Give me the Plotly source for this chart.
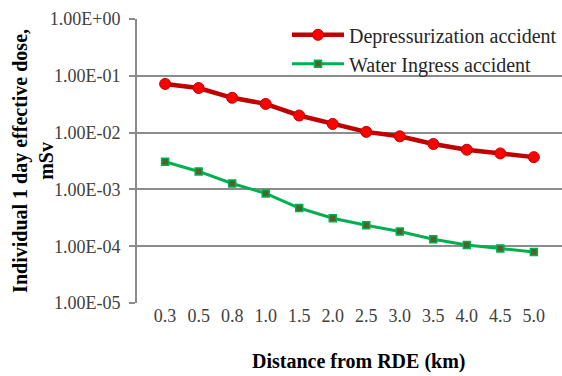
import plotly.graph_objects as go

distances = ["0.3", "0.5", "0.8", "1.0", "1.5", "2.0", "2.5", "3.0", "3.5", "4.0", "4.5", "5.0"]
depressurization = [0.072, 0.061, 0.041, 0.032, 0.020, 0.0142, 0.0103, 0.0086, 0.0063, 0.0050, 0.0043, 0.0037]
water_ingress = [0.00306, 0.00207, 0.00127, 0.00085, 0.00047, 0.00031, 0.000234, 0.000181, 0.000133, 0.000105, 0.0000912, 0.0000794]
ytick_vals = [1e-5, 1e-4, 1e-3, 1e-2, 1e-1, 1e0]
ytick_text = ["1.00E-05", "1.00E-04", "1.00E-03", "1.00E-02", "1.00E-01", "1.00E+00"]

FONT = "'Liberation Serif', 'Times New Roman', serif"
GRID = "#8c8c8c"

fig = go.Figure()
fig.add_trace(go.Scatter(
    x=distances, y=depressurization, name="Depressurization accident",
    mode="lines+markers",
    line=dict(color="#c00000", width=4.5),
    marker=dict(symbol="circle", size=11, color="#ff0000", line=dict(color="#c00000", width=1)),
))
fig.add_trace(go.Scatter(
    x=distances, y=water_ingress, name="Water Ingress accident",
    mode="lines+markers",
    line=dict(color="#00b050", width=3),
    marker=dict(symbol="square", size=7, color="#4f6228", line=dict(color="#00b050", width=1.5)),
))

fig.update_layout(
    width=562, height=376,
    margin=dict(l=137, r=0, t=19, b=73),
    paper_bgcolor="white", plot_bgcolor="white",
    font=dict(family=FONT, size=18, color="#262626"),
    showlegend=True,
    legend=dict(
        x=1, y=1.013, xanchor="right", yanchor="top",
        bgcolor="rgba(0,0,0,0)", borderwidth=0,
        font=dict(family=FONT, size=20, color="#262626"),
        itemwidth=52, tracegroupgap=0,
    ),
    xaxis=dict(
        type="category", showgrid=False, showline=False, ticks="",
        tickfont=dict(family=FONT, size=18, color="#404040"),
        zeroline=False,
    ),
    yaxis=dict(
        type="log", range=[-5, 0],
        tickvals=ytick_vals, ticktext=ytick_text,
        showgrid=True, gridcolor=GRID, gridwidth=2,
        showline=True, linecolor=GRID, linewidth=2,
        ticks="outside", ticklen=6, tickcolor=GRID, tickwidth=2,
        ticklabelstandoff=5,
        tickfont=dict(family=FONT, size=18, color="#404040"),
        zeroline=False,
    ),
    annotations=[
        dict(text="<b>Individual 1 day effective dose,<br>mSv</b>",
             xref="paper", yref="paper", x=-0.245, y=0.5,
             xanchor="center", yanchor="middle", textangle=-90, showarrow=False,
             font=dict(family=FONT, size=20, color="#000000")),
        dict(text="<b>Distance from RDE (km)</b>",
             xref="paper", yref="paper", x=0.522, y=-0.255,
             xanchor="center", yanchor="bottom", showarrow=False,
             font=dict(family=FONT, size=20, color="#000000")),
    ],
)

fig.write_html("out.html")
